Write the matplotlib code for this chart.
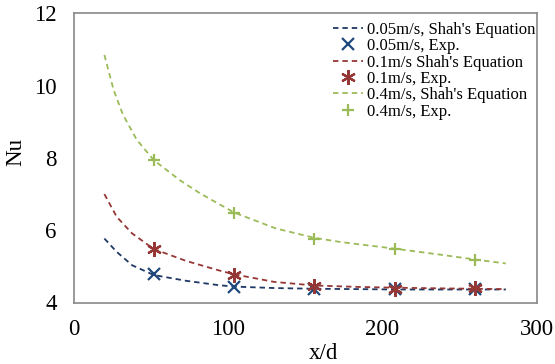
import matplotlib
matplotlib.use("Agg")
import matplotlib.pyplot as plt

plt.rcParams['font.family'] = ['Liberation Serif', 'DejaVu Serif']

# Experimental points
x_exp = [52, 104, 156, 208, 260]
nu_exp_005 = [4.80, 4.42, 4.37, 4.36, 4.37]
nu_exp_01 = [5.48, 4.76, 4.45, 4.38, 4.39]
nu_exp_04 = [7.94, 6.49, 5.77, 5.48, 5.17]

# Shah's equation curves
x_shah_005 = [20, 28, 38, 52, 73, 94, 104, 130, 156, 185, 208, 240, 260, 280]
nu_shah_005 = [5.77, 5.40, 5.03, 4.76, 4.60, 4.48, 4.44, 4.40, 4.38, 4.37, 4.36, 4.36, 4.36, 4.36]
x_shah_01 = [20, 28, 38, 52, 73, 94, 104, 130, 156, 185, 208, 240, 260, 280]
nu_shah_01 = [7.00, 6.37, 5.91, 5.48, 5.15, 4.89, 4.78, 4.57, 4.47, 4.43, 4.41, 4.39, 4.38, 4.37]
x_shah_04 = [20, 26, 32, 41, 52, 69, 82, 104, 131, 156, 172, 185, 208, 240, 260, 280]
nu_shah_04 = [10.85, 9.88, 9.20, 8.50, 7.94, 7.38, 7.02, 6.49, 6.05, 5.79, 5.68, 5.61, 5.49, 5.31, 5.19, 5.08]

labels = ["0.05m/s, Shah's Equation", "0.05m/s, Exp.",
          "0.1m/s Shah's Equation", "0.1m/s, Exp.",
          "0.4m/s, Shah's Equation", "0.4m/s, Exp."]
x_ticks = [0, 100, 200, 300]
y_ticks = [4, 6, 8, 10, 12]

c_blue_line = '#1f3864'
c_blue = '#1f497d'
c_red = '#953735'
c_green = '#9bbb59'

fig = plt.figure(figsize=(5.55, 3.64), dpi=100)
ax = fig.add_axes([73.5/555, 1-302.5/364, (536.7-73.5)/555, (302.5-13.4)/364])

dash = (3, 2.2)
lw = 1.3
l1, = ax.plot(x_shah_005, nu_shah_005, color=c_blue_line, lw=lw, dashes=dash)
m1, = ax.plot(x_exp, nu_exp_005, ls='none', marker='x', ms=8.5, mew=1.6, color=c_blue)
l2, = ax.plot(x_shah_01, nu_shah_01, color=c_red, lw=lw, dashes=dash)
m2, = ax.plot(x_exp, nu_exp_01, ls='none', marker=(6, 2, 0), ms=10.5, mew=1.6, color=c_red)
l3, = ax.plot(x_shah_04, nu_shah_04, color=c_green, lw=lw, dashes=dash)
m3, = ax.plot(x_exp, nu_exp_04, ls='none', marker='+', ms=9, mew=1.6, color=c_green)

ax.set_xlim(0, 300)
ax.set_ylim(4, 12)
ax.set_xticks(x_ticks)
ax.set_yticks(y_ticks)
ax.tick_params(length=0, labelsize=16.5)
ax.tick_params(axis='x', pad=12)
ax.tick_params(axis='y', pad=12)
for s in ax.spines.values():
    s.set_color('#888888')
    s.set_linewidth(1.2)

ax.set_xlabel('x/d', fontsize=16.5)
ax.set_ylabel('Nu', fontsize=16.5)
ax.xaxis.set_label_coords((323-73.5)/463.2, -0.14)
ax.yaxis.set_label_coords(-0.102, 0.52)

leg = ax.legend([l1, m1, l2, m2, l3, m3], labels, loc='upper left',
                bbox_to_anchor=(333/555, 1-22/364), bbox_transform=fig.transFigure,
                frameon=False, fontsize=12, handlelength=1.8, handletextpad=0.25,
                labelspacing=0.02, borderaxespad=0, borderpad=0)

fig.savefig('out.png', dpi=100)
